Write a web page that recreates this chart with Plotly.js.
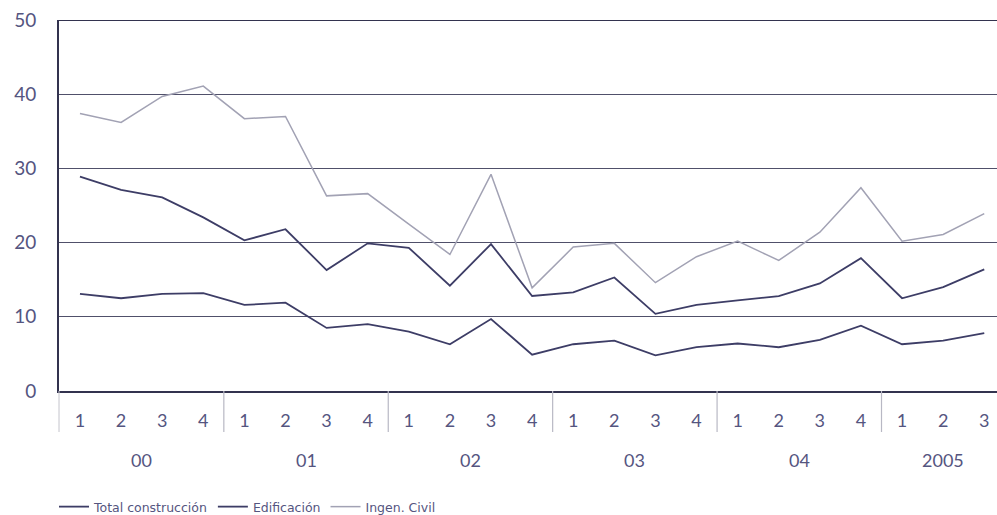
<!DOCTYPE html>
<html>
<head>
<meta charset="utf-8">
<script src="https://cdn.plot.ly/plotly-3.0.1.min.js"></script>
<style>
html,body{margin:0;padding:0;background:#ffffff;}
#chart{width:997px;height:515px;}
</style>
</head>
<body>
<div id="chart"></div>
<script>
// Quarter tick labels (2000Q1 .. 2005Q3)
var quarters = ["1","2","3","4","1","2","3","4","1","2","3","4","1","2","3","4","1","2","3","4","1","2","3"];
var years = ["00","01","02","03","04","2005"];
var yearCenters = [1.5, 5.5, 9.5, 13.5, 17.5, 21];
var yearBreaks = [3.5, 7.5, 11.5, 15.5, 19.5];

var totalConstruccion = [28.9,27.1,26.1,23.4,20.3,21.8,16.3,19.9,19.3,14.2,19.8,12.8,13.3,15.3,10.4,11.6,12.2,12.8,14.5,17.9,12.5,14.0,16.4];
var edificacion = [13.1,12.5,13.1,13.2,11.6,11.9,8.5,9.0,8.0,6.3,9.7,4.9,6.3,6.8,4.8,5.9,6.4,5.9,6.9,8.8,6.3,6.8,7.8];
var ingenCivil = [37.4,36.2,39.7,41.1,36.7,37.0,26.3,26.6,22.5,18.4,29.2,13.9,19.4,19.9,14.6,18.1,20.2,17.6,21.4,27.4,20.2,21.1,23.9];

var idx = quarters.map(function(q,i){return i;});
var dark = "#3d3d66";
var light = "#a2a2b4";
var textCol = "#55557f";
var fam = "Lato, 'Noto Sans', sans-serif";

var traces = [
  {x: idx, y: totalConstruccion, type: "scatter", mode: "lines", name: "Total construcción",
   line: {color: dark, width: 1.8}},
  {x: idx, y: edificacion, type: "scatter", mode: "lines", name: "Edificación",
   line: {color: dark, width: 1.8}},
  {x: idx, y: ingenCivil, type: "scatter", mode: "lines", name: "Ingen. Civil",
   line: {color: light, width: 1.5}}
];

var plotH = 371;
var sepLen = 41 / plotH;

var shapes = [
  {type: "line", xref: "paper", yref: "y", x0: 0, x1: 1, y0: 50, y1: 50,
   line: {color: "#33334f", width: 2}},
  {type: "line", xref: "paper", yref: "paper", x0: 0, x1: 0, y0: 0, y1: -sepLen,
   line: {color: "#c4c4cc", width: 1}}
];
yearBreaks.forEach(function(b){
  shapes.push({type: "line", xref: "x", yref: "paper", x0: b, x1: b, y0: 0, y1: -sepLen,
    line: {color: "#b8b8c4", width: 1.2}});
});

var annotations = years.map(function(yr, i){
  return {x: yearCenters[i], xref: "x", y: -69/plotH, yref: "paper", text: yr,
    showarrow: false, xanchor: "center", yanchor: "middle",
    font: {family: fam, size: 18, color: textCol}};
});

var layout = {
  width: 997, height: 515,
  margin: {l: 59, r: 0, t: 20, b: 124, pad: 0, autoexpand: false},
  paper_bgcolor: "#ffffff", plot_bgcolor: "#ffffff",
  showlegend: true,
  legend: {orientation: "h", xref: "container", yref: "container",
    x: 54/997, xanchor: "left", y: 8/515, yanchor: "middle",
    font: {family: "'DejaVu Sans', sans-serif", size: 12.5, color: textCol},
    itemwidth: 30, bgcolor: "rgba(0,0,0,0)"},
  xaxis: {range: [-0.51, 22.31], tickvals: idx, ticktext: quarters, showgrid: false,
    zeroline: false, showline: true, linecolor: "#33334f", linewidth: 2,
    ticks: "", ticklabelstandoff: 12,
    tickfont: {family: fam, size: 18, color: textCol}},
  yaxis: {range: [0, 50], tickvals: [0,10,20,30,40,50], showgrid: true,
    gridcolor: "#50506a", gridwidth: 1, zeroline: false, showline: true,
    linecolor: "#33334f", linewidth: 2, ticks: "", ticklabelstandoff: 17,
    tickfont: {family: fam, size: 19, color: textCol}},
  shapes: shapes,
  annotations: annotations
};

Plotly.newPlot("chart", traces, layout, {displayModeBar: false, staticPlot: true});
</script>
</body>
</html>
